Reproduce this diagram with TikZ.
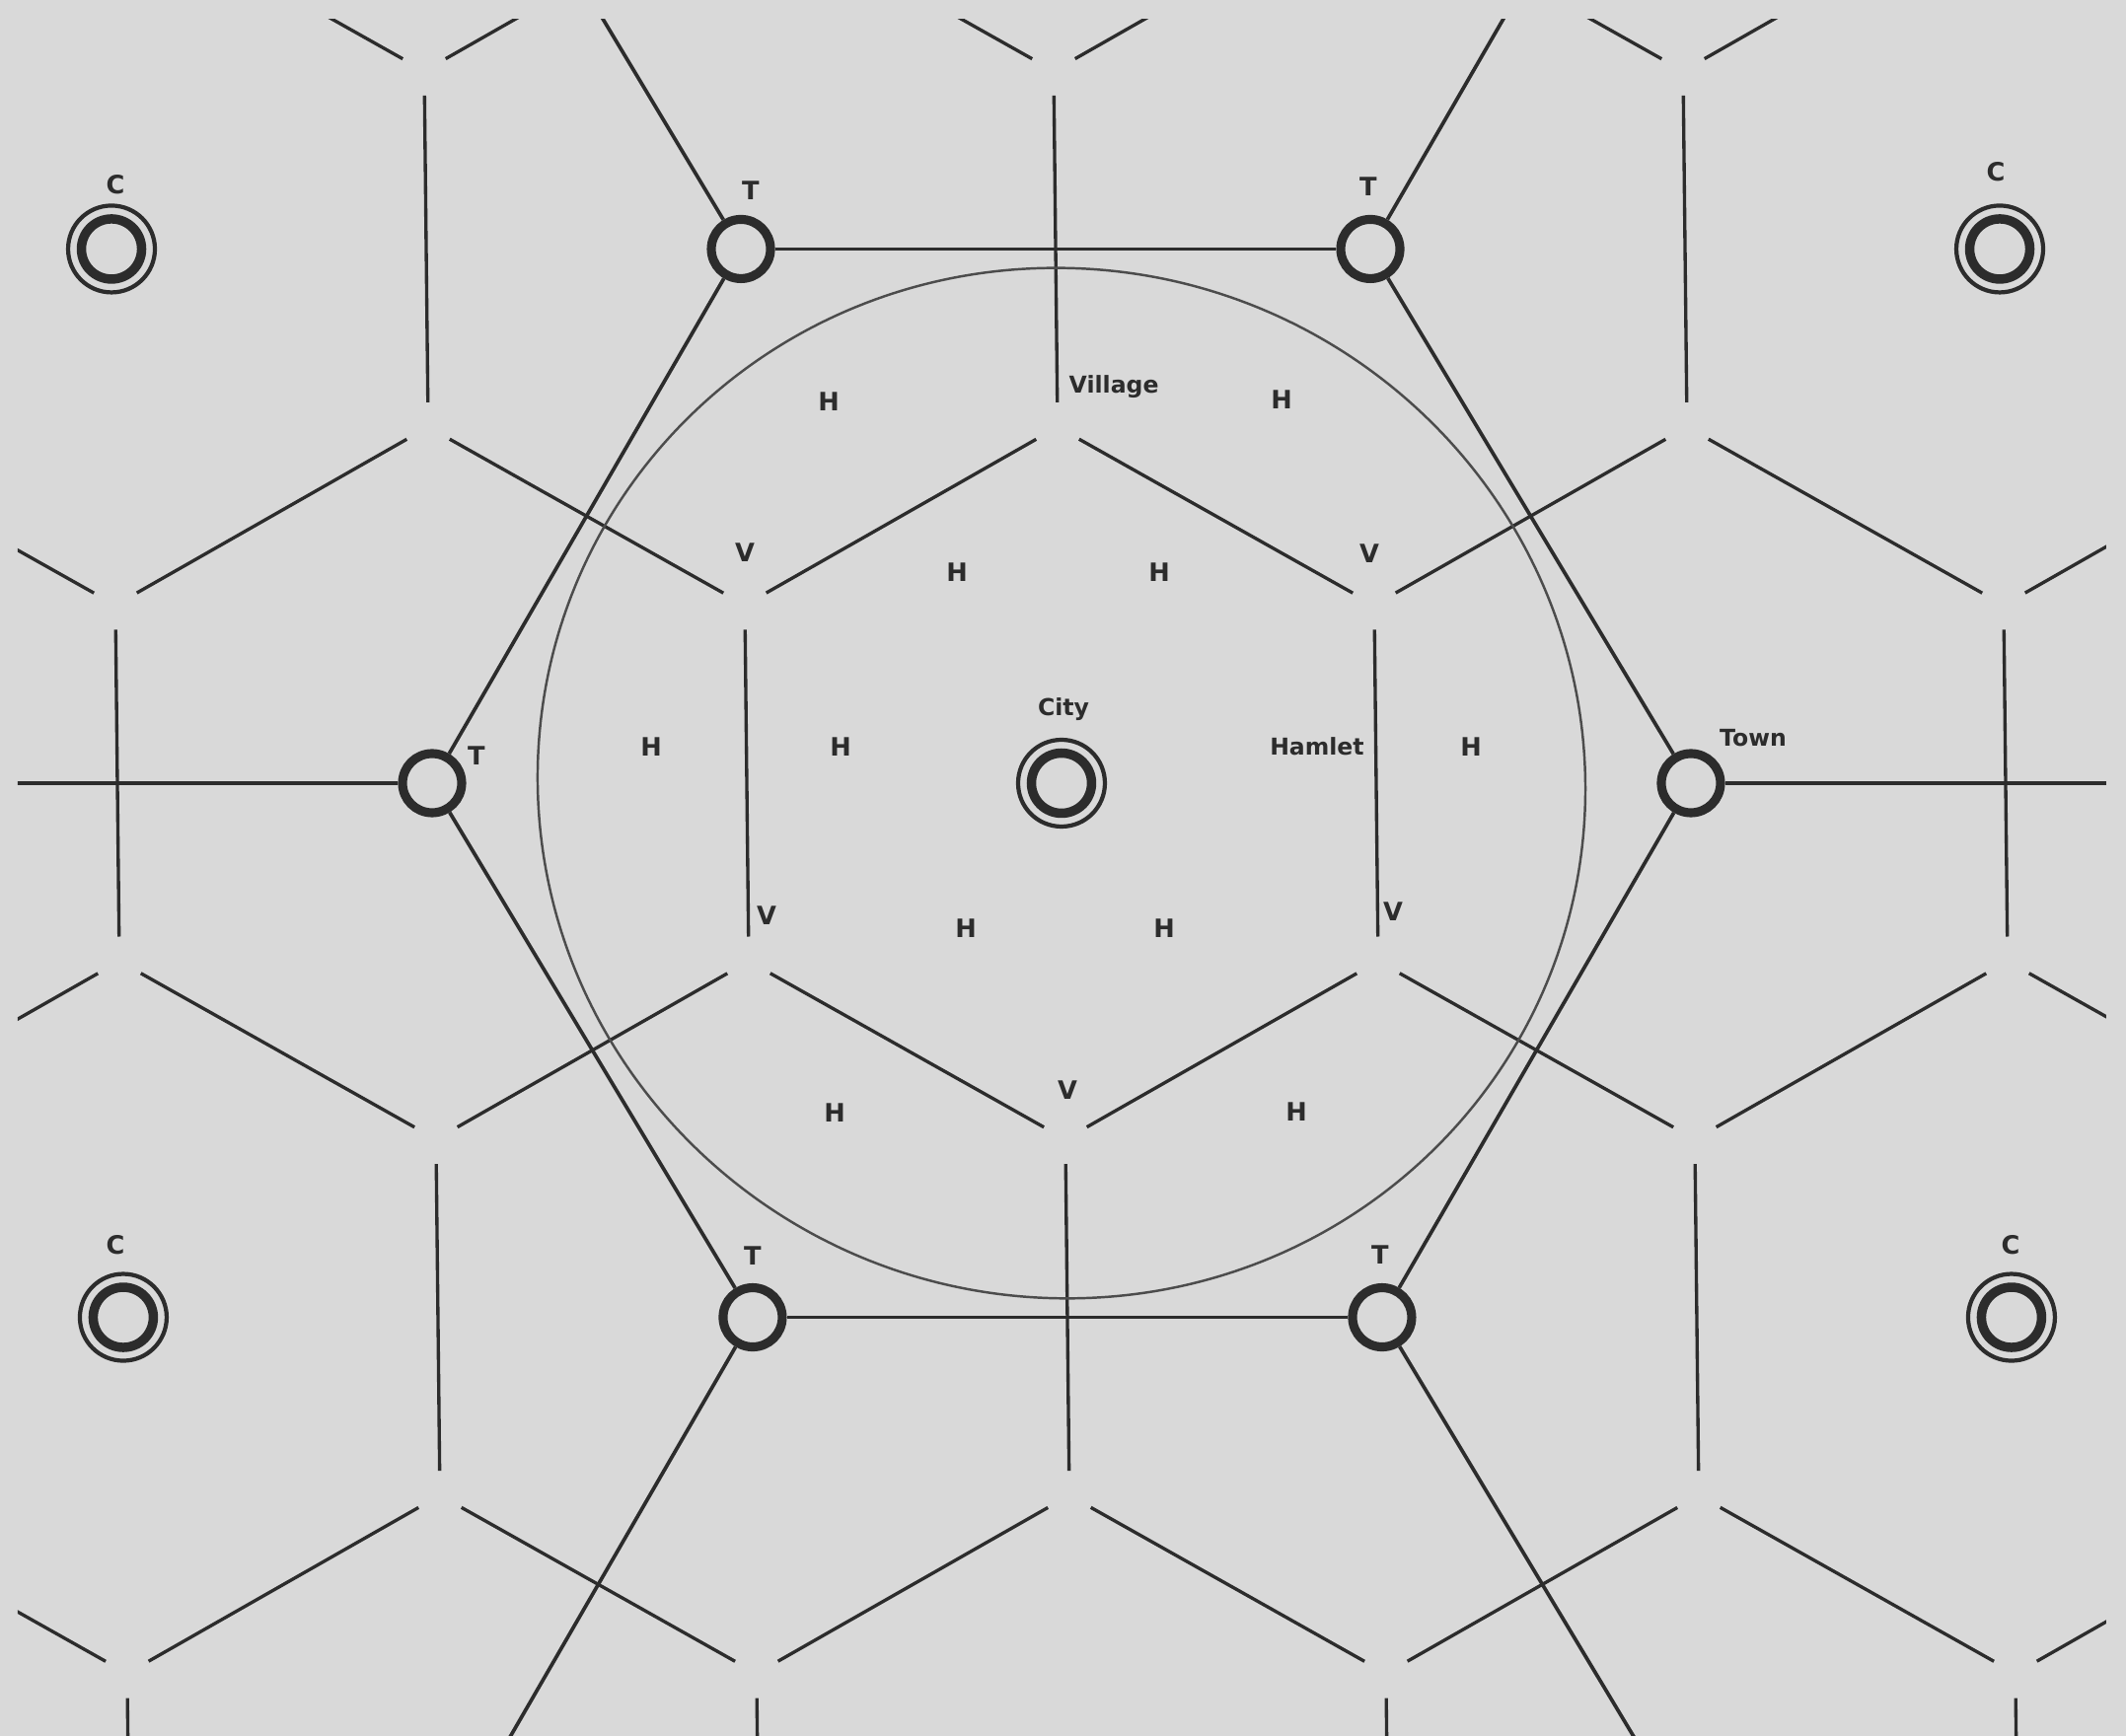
\documentclass[tikz,border=0pt]{standalone}
\usepackage{fontspec}
\newfontfamily\mapfont{DejaVu Sans}
\definecolor{mappaper}{HTML}{D9D9D9}
\definecolor{mapink}{HTML}{2C2C2C}

\begin{document}
\begin{tikzpicture}[
    x=1cm,y=.98cm,
    edge/.style={draw=mapink,line width=.95pt,shorten <=.25cm,shorten >=.25cm},
    road/.style={draw=mapink,line width=1.05pt},
    reach/.style={draw=mapink!85,line width=.7pt},
    town/.style={circle,minimum size=.60cm,inner sep=0pt,line width=2.6pt,
      draw=mapink,fill=mappaper},
    capital/.style={circle,minimum size=.61cm,inner sep=0pt,line width=2.7pt,
      draw=mapink,fill=mappaper},
    halo/.style={circle,minimum size=.88cm,inner sep=0pt,line width=1.2pt,
      draw=mapink,fill=mappaper},
    tag/.style={inner sep=0pt,text=mapink,font=\mapfont\bfseries\fontsize{7.3}{9}\selectfont},
    word/.style={tag,font=\mapfont\bfseries\fontsize{6.7}{8}\selectfont}
  ]
  \path[fill=mappaper,use as bounding box] (-10.76,-9.857) rectangle (10.79,8.102);

  \begin{scope}
    \clip (-10.58,-9.9) rectangle (10.59,7.90);
    \begin{scope}[xslant=-.011]
      % market areas of the smallest places
      \foreach \i in {-3,...,3}
        \foreach \j in {-2,...,2}{
          \begin{scope}[shift={({6.38*\i+3.19*\j},{5.526*\j})}]
            \draw[edge] (3.19,1.842) -- (3.19,-1.842);
            \draw[edge] (0,3.684) -- (3.19,1.842);
            \draw[edge] (3.19,-1.842) -- (0,-3.684);
          \end{scope}
        }

      \draw[reach] (0,0) ellipse [x radius=5.31,y radius=5.33];

      \node[town] (tnw) at (-3.19,5.526) {};
      \node[town] (tne) at (3.19,5.526) {};
      \node[town] (tw) at (-6.38,0) {};
      \node[town] (te) at (6.38,0) {};
      \node[town] (tsw) at (-3.19,-5.526) {};
      \node[town] (tse) at (3.19,-5.526) {};

      \coordinate (tnw-far) at (-6.38,11.052);
      \coordinate (tne-far) at (6.38,11.052);
      \coordinate (tw-far) at (-12.76,0);
      \coordinate (te-far) at (12.76,0);
      \coordinate (tsw-far) at (-6.38,-11.052);
      \coordinate (tse-far) at (6.38,-11.052);

      \foreach \a/\b in {tnw/tne,tne/te,te/tse,tse/tsw,tsw/tw,tw/tnw}
        \draw[road] (\a) -- (\b);
      \foreach \t in {tnw,tne,tw,te,tsw,tse}
        \draw[road] (\t) -- (\t-far);

      \foreach \n/\p in {city/{0,0},cnw/{-9.57,5.526},cne/{9.57,5.526},
          csw/{-9.57,-5.526},cse/{9.57,-5.526}}{
        \node[halo] (\n-halo) at (\p) {};
        \node[capital] (\n) at (\p) {};
      }
    \end{scope}
  \end{scope}

  % labels
  \node[word] (lcity) at (0.02,0.76) {City};
  \node[word] (lhamlet) at (2.59,0.38) {Hamlet};
  \node[word,anchor=west] (lvillage) at (0.07,4.10) {Village};
  \node[word] (ltown) at (7.01,0.47) {Town};
  \foreach \p [count=\k] in {{-3.15,6.13},{3.11,6.17},{-5.93,0.28},
      {-3.13,-4.89},{3.23,-4.88}}
    \node[tag] (lt\k) at (\p) {T};
  \foreach \p [count=\k] in {{-9.59,6.19},{9.47,6.32},{-9.59,-4.78},{9.62,-4.78}}
    \node[tag] (lc\k) at (\p) {C};
  \foreach \p [count=\k] in {{-3.21,2.39},{3.12,2.38},{-2.99,-1.37},
      {3.36,-1.33},{0.06,-3.17}}
    \node[tag] (lv\k) at (\p) {V};
  \foreach \p [count=\k] in {{-2.36,3.95},{2.23,3.97},{-1.06,2.18},{0.99,2.18},
      {-4.16,0.38},{-2.24,0.38},{4.15,0.38},{-0.97,-1.50},{1.04,-1.50},
      {-2.30,-3.41},{2.38,-3.40}}
    \node[tag] (lh\k) at (\p) {H};
\end{tikzpicture}
\end{document}
